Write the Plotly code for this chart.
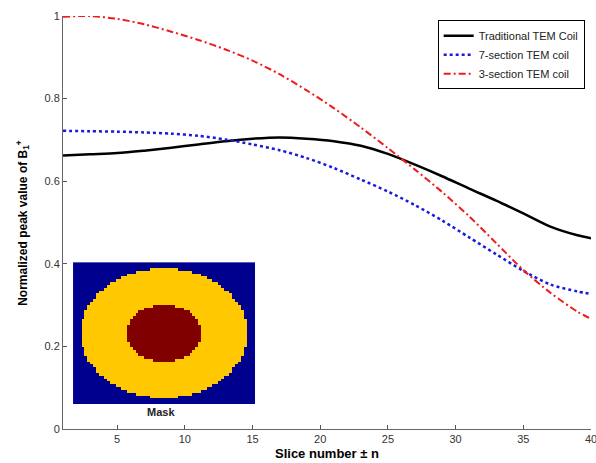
import numpy as np
import plotly.graph_objects as go

# ---- data ----
slice_x = [1, 3, 5, 7, 9, 11, 13, 15, 17, 19, 21, 23, 25, 27, 29, 31, 33, 35, 37, 39, 40]
traditional = [0.662, 0.665, 0.668, 0.674, 0.681, 0.689, 0.697, 0.703, 0.706, 0.703, 0.697,
               0.686, 0.666, 0.640, 0.612, 0.582, 0.553, 0.522, 0.490, 0.469, 0.462]
seven_section = [0.722, 0.721, 0.720, 0.718, 0.715, 0.710, 0.701, 0.689, 0.675, 0.656, 0.632,
                 0.604, 0.575, 0.542, 0.505, 0.464, 0.423, 0.383, 0.350, 0.333, 0.327]
three_section = [0.998, 1.000, 0.993, 0.980, 0.962, 0.942, 0.919, 0.892, 0.859, 0.820, 0.777,
                 0.730, 0.680, 0.628, 0.574, 0.515, 0.450, 0.385, 0.330, 0.284, 0.267]
series_names = ["Traditional TEM Coil", "7-section TEM coil", "3-section TEM coil"]

x_ticks = [5, 10, 15, 20, 25, 30, 35, 40]
y_ticks = [0, 0.2, 0.4, 0.6, 0.8, 1]
y_tick_labels = ["0", "0.2", "0.4", "0.6", "0.8", "1"]

# mask image (inset): grid size and ellipse semi-axes in grid cells
mask_cols, mask_rows = 64, 50
outer_axes = (29.2, 22.9)
inner_axes = (13.0, 10.0)

cx, cy = (mask_cols - 1) / 2, (mask_rows - 1) / 2
gx, gy = np.meshgrid(np.arange(mask_cols), np.arange(mask_rows))
outer = ((gx - cx) / outer_axes[0]) ** 2 + ((gy - cy) / outer_axes[1]) ** 2 <= 1
inner = ((gx - cx) / inner_axes[0]) ** 2 + ((gy - cy) / inner_axes[1]) ** 2 <= 1
mask = np.zeros((mask_rows, mask_cols))
mask[outer] = 1
mask[inner] = 2

font_main = "Liberation Sans, Arial, sans-serif"

fig = go.Figure()
fig.add_trace(go.Scatter(x=slice_x, y=traditional, name=series_names[0], mode="lines",
                         line=dict(color="black", width=2.5, shape="spline", smoothing=0.8)))
fig.add_trace(go.Scatter(x=slice_x, y=seven_section, name=series_names[1], mode="lines",
                         line=dict(color="#1a1adc", width=2.5, dash="dot", shape="spline", smoothing=0.8)))
fig.add_trace(go.Scatter(x=slice_x, y=three_section, name=series_names[2], mode="lines",
                         line=dict(color="#ee1c1c", width=2, dash="7px,3px,2px,3px",
                                   shape="spline", smoothing=0.8)))

fig.add_trace(go.Heatmap(z=mask, xaxis="x2", yaxis="y2", showscale=False, zsmooth=False,
                         zmin=0, zmax=2, hoverinfo="skip",
                         colorscale=[[0, "#00008f"], [0.333, "#00008f"], [0.333, "#ffc800"],
                                     [0.667, "#ffc800"], [0.667, "#800000"], [1, "#800000"]]))

fig.update_layout(
    width=596, height=463,
    margin=dict(l=63, r=5, t=16, b=34),
    paper_bgcolor="white", plot_bgcolor="white",
    font=dict(family=font_main, size=11, color="#333333"),
    showlegend=True,
    legend=dict(x=0.988, y=0.99, xanchor="right", yanchor="top",
                bordercolor="black", borderwidth=1, bgcolor="white",
                font=dict(size=11, color="#222222"), tracegroupgap=0),
    xaxis=dict(range=[1, 40], tickvals=x_ticks, ticks="inside", ticklen=4,
               tickcolor="#555555", showline=True, linecolor="#666666", linewidth=1,
               showgrid=False, zeroline=False, mirror=False, automargin=False,
               ticklabeloverflow="allow"),
    yaxis=dict(range=[0, 1], tickvals=y_ticks, ticktext=y_tick_labels, ticks="inside",
               ticklen=4, tickcolor="#555555", showline=True, linecolor="#666666",
               linewidth=1, showgrid=False, zeroline=False, automargin=False),
    xaxis2=dict(domain=[0.019, 0.364], anchor="y2", visible=False, showgrid=False,
                range=[-0.5, mask_cols - 0.5], automargin=False),
    yaxis2=dict(domain=[0.0605, 0.404], anchor="x2", visible=False, showgrid=False,
                range=[mask_rows - 0.5, -0.5], automargin=False),
    annotations=[
        dict(text="Slice number \u00b1 n", xref="paper", yref="paper", x=0.5, y=-0.06,
             xanchor="center", yanchor="middle", showarrow=False,
             font=dict(family=font_main, size=13, color="black", weight="bold")),
        dict(text="Normalized peak value of B<sub>1</sub><sup>+</sup>", xref="paper", yref="paper",
             x=-0.077, y=0.5, xanchor="center", yanchor="middle", textangle=-90, showarrow=False,
             font=dict(family=font_main, size=12, color="black", weight="bold")),
        dict(text="Mask", xref="paper", yref="paper", x=0.185, y=0.04,
             xanchor="center", yanchor="middle", showarrow=False,
             font=dict(family=font_main, size=11, color="#222222", weight="bold")),
    ],
)

fig.write_html("out.html", config={"displayModeBar": False},
               post_script="document.body.style.margin='0';document.body.style.overflow='hidden';")
